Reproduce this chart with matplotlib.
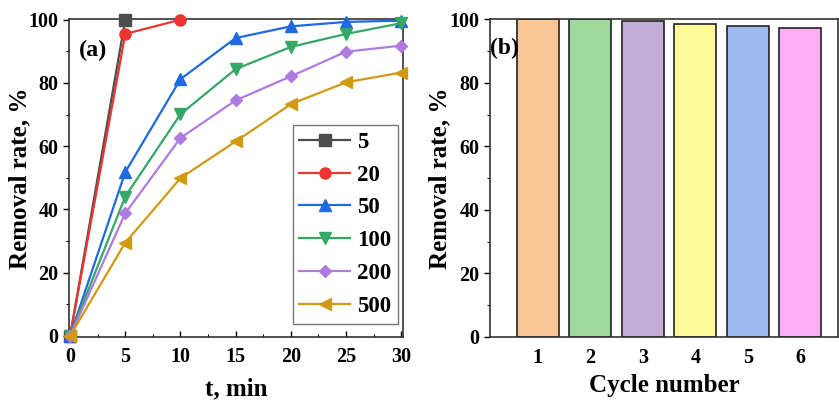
import matplotlib
matplotlib.use("Agg")
import matplotlib.pyplot as plt
from matplotlib.ticker import MultipleLocator

plt.rcParams['font.family'] = ['Liberation Serif', 'DejaVu Serif']
plt.rcParams['font.weight'] = 'bold'

# Panel (a) data
series_labels = ['5', '20', '50', '100', '200', '500']
t_5 = [0, 5]
r_5 = [0, 100]
t_20 = [0, 5, 10]
r_20 = [0, 95.5, 100]
t_all = [0, 5, 10, 15, 20, 25, 30]
r_50 = [0, 51.8, 81.2, 94.2, 97.9, 99.3, 99.7]
r_100 = [0, 44.1, 70.1, 84.4, 91.4, 95.5, 98.9]
r_200 = [0, 38.8, 62.6, 74.5, 82.1, 89.9, 91.8]
r_500 = [0, 29.5, 49.9, 61.5, 73.3, 80.2, 83.3]

# Panel (b) data
cycles = [1, 2, 3, 4, 5, 6]
cycle_rates = [100, 100, 99.4, 98.4, 97.9, 97.3]

line_colors = ['#4d4d4d', '#ee3333', '#1f6ae0', '#35a865', '#b07be0', '#d09a12']
markers = ['s', 'o', '^', 'v', 'D', '<']
bar_colors = ['#fbc795', '#a0d99c', '#c3aed7', '#fdfb99', '#9dbbf1', '#fcaff4']

fig = plt.figure(figsize=(8.39, 4.04), dpi=100)
ax1 = fig.add_axes([0.0822, 0.166, 0.398, 0.786])
ax2 = fig.add_axes([0.584, 0.166, 0.415, 0.786])

xs = [t_5, t_20, t_all, t_all, t_all, t_all]
ys = [r_5, r_20, r_50, r_100, r_200, r_500]
for x, y, c, m, lab in zip(xs, ys, line_colors, markers, series_labels):
    ms = 6.5 if m == 'D' else 8
    ax1.plot(x, y, color=c, marker=m, markersize=ms, lw=1.6, label=lab, clip_on=False, zorder=3)

ax1.set_xlim(-0.1, 30.15)
ax1.set_ylim(-0.3, 100.1)
ax1.xaxis.set_major_locator(MultipleLocator(5))
ax1.xaxis.set_minor_locator(MultipleLocator(2.5))
ax1.yaxis.set_major_locator(MultipleLocator(20))
ax1.yaxis.set_minor_locator(MultipleLocator(10))
ax1.set_xlabel('t, min', fontsize=18, fontweight='bold', labelpad=8)
ax1.set_ylabel('Removal rate, %', fontsize=18, fontweight='bold', labelpad=-2)
ax1.text(0.03, 0.885, '(a)', transform=ax1.transAxes, fontsize=17.5, fontweight='bold')
leg = ax1.legend(loc='lower right', bbox_to_anchor=(0.985, 0.04), fontsize=16.5, frameon=True,
                 fancybox=False, edgecolor='#555555', handlelength=2.2, handletextpad=0.3,
                 borderpad=0.3, labelspacing=0.52, borderaxespad=0.0)
leg.get_frame().set_linewidth(1.0)
for t in leg.get_texts():
    t.set_fontweight('bold')

ax2.bar(cycles, cycle_rates, width=0.8, color=bar_colors, edgecolor='#222222', linewidth=1.2)
ax2.set_xlim(0.09, 6.72)
ax2.set_ylim(0, 100)
ax2.set_xticks(cycles)
ax2.yaxis.set_major_locator(MultipleLocator(20))
ax2.yaxis.set_minor_locator(MultipleLocator(10))
ax2.set_xlabel('Cycle number', fontsize=18, fontweight='bold', labelpad=4)
ax2.set_ylabel('Removal rate, %', fontsize=18, fontweight='bold', labelpad=-1)
ax2.text(0.0, 0.89, '(b)', transform=ax2.transAxes, fontsize=17, fontweight='bold')

for ax in (ax1, ax2):
    for s in ax.spines.values():
        s.set_linewidth(1.2)
        s.set_color('#333333')
    ax.tick_params(which='major', direction='out', length=4, width=1.0, labelsize=14.5)
    ax.tick_params(which='minor', direction='out', length=2.5, width=0.8)
    for lab in ax.get_xticklabels() + ax.get_yticklabels():
        lab.set_fontweight('bold')
ax1.tick_params(axis='x', which='both', direction='in', pad=7)
ax2.tick_params(axis='x', which='both', length=0, pad=8)

fig.savefig('out.png', dpi=100)
